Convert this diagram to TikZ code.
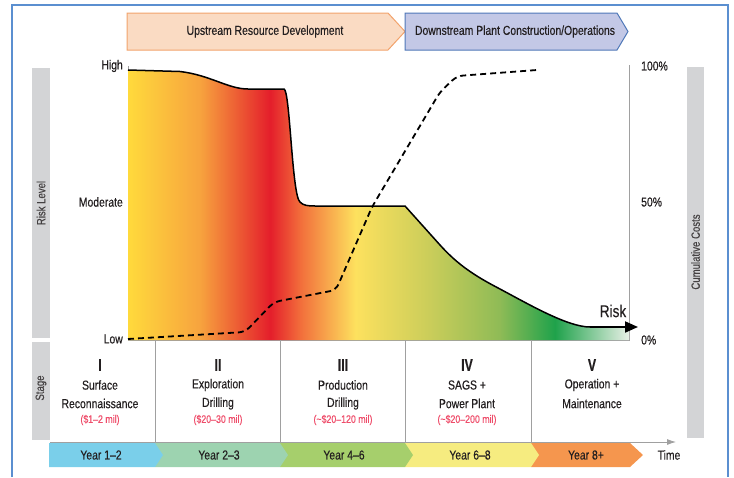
\documentclass[tikz,border=0pt]{standalone}
\usepackage{fontspec}
\setmainfont{Liberation Sans}[FakeStretch=0.8,FakeBold=0.4]
\newfontfamily\boldnum{Liberation Sans Bold}[FakeStretch=0.72,FakeBold=0.6]
\usetikzlibrary{arrows.meta}
\definecolor{framec}{HTML}{5B8FD0}
\definecolor{barc}{HTML}{D3D4D6}
\definecolor{axisc}{HTML}{A0A0A0}
\definecolor{txtc}{HTML}{231F20}
\definecolor{costc}{HTML}{EE4D6A}
\definecolor{upfill}{HTML}{FADBC3}
\definecolor{updraw}{HTML}{F2A36C}
\definecolor{dnfill}{HTML}{C3C8E6}
\definecolor{dndraw}{HTML}{4F78B8}
\definecolor{y1c}{HTML}{7ACFEA}
\definecolor{y2c}{HTML}{9DD3B0}
\definecolor{y3c}{HTML}{A6CF6C}
\definecolor{y4c}{HTML}{F6EC80}
\definecolor{y5c}{HTML}{F5964E}
\definecolor{c1}{HTML}{FFDA3C}
\definecolor{c2}{HTML}{F7A33E}
\definecolor{c3}{HTML}{E41E2B}
\definecolor{c4}{HTML}{F26E3B}
\definecolor{c5}{HTML}{FDE15E}
\definecolor{c6}{HTML}{CACD5A}
\definecolor{c7}{HTML}{8FBB56}
\definecolor{c8}{HTML}{1FA24B}
\definecolor{c9}{HTML}{E8F0E6}
\pgfdeclarehorizontalshading{riskshade}{100bp}{color(0bp)=(c1); color(25bp)=(c1); color(32.2bp)=(c2); color(39.2bp)=(c3); color(42.2bp)=(c4); color(47.7bp)=(c5); color(55.1bp)=(c6); color(62.1bp)=(c7); color(67.6bp)=(c8); color(75bp)=(c9); color(100bp)=(c9)}
\begin{document}
\begin{tikzpicture}[x=1pt,y=-1pt,
  lab/.style={font=\fontsize{13}{15}\selectfont, text=txtc, inner sep=0pt},
  sidelab/.style={font=\fontsize{12}{14}\selectfont, text=txtc!85, inner sep=0pt, rotate=90},
  costlab/.style={font=\fontsize{11}{13}\selectfont, text=costc, inner sep=0pt},
  numlab/.style={font=\boldnum\fontsize{17}{19}\selectfont, text=txtc, inner sep=0pt},
  axisline/.style={draw=axisc, line width=0.8pt}
]
\useasboundingbox (0,0) rectangle (734,477);
% frame
\draw[framec, line width=1.4pt] (12,477) -- (12,5) -- (728,5) -- (728,477);
% top phase arrows
\draw[fill=upfill, draw=updraw, line width=1pt] (127,13) -- (388,13) -- (405,31.5) -- (388,50) -- (127,50) -- cycle;
\draw[fill=dnfill, draw=dndraw, line width=1pt] (405,13) -- (617,13) -- (628,31.5) -- (617,50) -- (405,50) -- cycle;
\node[lab] (up) at (265,31.5) {Upstream Resource Development};
\node[lab] (dn) at (515,31.5) {Downstream Plant Construction/Operations};
% gray side bars
\fill[barc] (32,68) rectangle (50,338);
\fill[barc] (32,342) rectangle (50,440);
\fill[barc] (687,67) rectangle (704,438);
\node[sidelab] (rl) at (41,203) {Risk Level};
\node[sidelab] (st) at (41,388) {Stage};
\node[sidelab] (cc) at (695.5,252) {Cumulative Costs};
% axes
\draw[axisline] (128,66) -- (128,340) -- (629,340) -- (629,65);
% risk area
\shade[shading=riskshade] (128,70) -- (180,71.5) .. controls (210,75) and (228,89) .. (248,89) -- (284,89)
  .. controls (290,90) and (292,196) .. (300,202) .. controls (303,205.5) and (308,206) .. (315,206) -- (405,206)
  -- (440,245) .. controls (458,265) and (475,276) .. (500,289) .. controls (530,305) and (568,327) .. (590,327)
  -- (629,327) -- (629,340) -- (128,340) -- cycle;
\draw[black, line width=1.5pt, line join=round] (128,70) -- (180,71.5) .. controls (210,75) and (228,89) .. (248,89) -- (284,89)
  .. controls (290,90) and (292,196) .. (300,202) .. controls (303,205.5) and (308,206) .. (315,206) -- (405,206)
  -- (440,245) .. controls (458,265) and (475,276) .. (500,289) .. controls (530,305) and (568,327) .. (590,327)
  coordinate (rend);
\coordinate (rtip) at (638,327);
\draw[black, line width=2pt, -{Triangle[length=13pt,width=11pt]}] (rend) -- (rtip);
\node[font=\fontsize{17}{18}\selectfont, text=txtc, inner sep=0pt] (risk) at (613,311) {Risk};
% cost curve
\draw[black, line width=1.8pt, dash pattern=on 6pt off 4pt, rounded corners=6pt]
  (128,339) -- (245,332) -- (274,302) -- (336,290) -- (372,207) -- (440,92) -- (457,76) -- (537,70);
% level labels
\node[lab, anchor=east] (hi) at (123,66) {High};
\node[lab, anchor=east] (mo) at (123,202) {Moderate};
\node[lab, anchor=east] (lo) at (123,339) {Low};
\node[lab, anchor=west] (p100) at (641,66) {100\%};
\node[lab, anchor=west] (p50) at (641,202) {50\%};
\node[lab, anchor=west] (p0) at (641,340) {0\%};
% stage dividers and time axis
\draw[axisline] (155,340) -- (155,442);
\draw[axisline] (280,340) -- (280,442);
\draw[axisline] (405,340) -- (405,442);
\draw[axisline] (531,340) -- (531,442);
\coordinate (tstart) at (50,442);
\coordinate (tend) at (676,442);
\draw[axisline, -{Latex[length=9pt,width=6pt]}] (tstart) -- (tend);
% year chevrons (right to left so tips overlap)
\fill[y5c] (531,443) -- (630,443) -- (643,455) -- (630,467) -- (531,467) -- cycle;
\fill[y4c] (405,443) -- (531,443) -- (539,455) -- (531,467) -- (405,467) -- cycle;
\fill[y3c] (280,443) -- (405,443) -- (413,455) -- (405,467) -- (280,467) -- cycle;
\fill[y2c] (155,443) -- (280,443) -- (288,455) -- (280,467) -- (155,467) -- cycle;
\fill[y1c] (49,443) -- (155,443) -- (163,455) -- (155,467) -- (49,467) -- cycle;
\node[lab] (yr1) at (101,455) {Year 1–2};
\node[lab] (yr2) at (219,455) {Year 2–3};
\node[lab] (yr3) at (344,455) {Year 4–6};
\node[lab] (yr4) at (470,455) {Year 6–8};
\node[lab] (yr5) at (586,455) {Year 8+};
\node[lab] (time) at (669,455) {Time};
% stage texts
\node[numlab] (n1) at (100,365) {I};
\node[lab] (s1a) at (100,385) {Surface};
\node[lab] (s1b) at (100,403.5) {Reconnaissance};
\node[costlab] (s1c) at (100,420) {(\$1–2 mil)};
\node[numlab] (n2) at (218,365) {II};
\node[lab] (s2a) at (218,385) {Exploration};
\node[lab] (s2b) at (218,403.5) {Drilling};
\node[costlab] (s2c) at (218,420) {(\$20–30 mil)};
\node[numlab] (n3) at (343,365) {III};
\node[lab] (s3a) at (343,385) {Production};
\node[lab] (s3b) at (343,403.5) {Drilling};
\node[costlab] (s3c) at (343,420) {(\textasciitilde\$20–120 mil)};
\node[numlab] (n4) at (467,365) {IV};
\node[lab] (s4a) at (467,385) {SAGS +};
\node[lab] (s4b) at (467,403.5) {Power Plant};
\node[costlab] (s4c) at (467,420) {(\textasciitilde\$20–200 mil)};
\node[numlab] (n5) at (592,365) {V};
\node[lab] (s5a) at (592,385) {Operation +};
\node[lab] (s5b) at (592,403.5) {Maintenance};
\end{tikzpicture}
\end{document}
